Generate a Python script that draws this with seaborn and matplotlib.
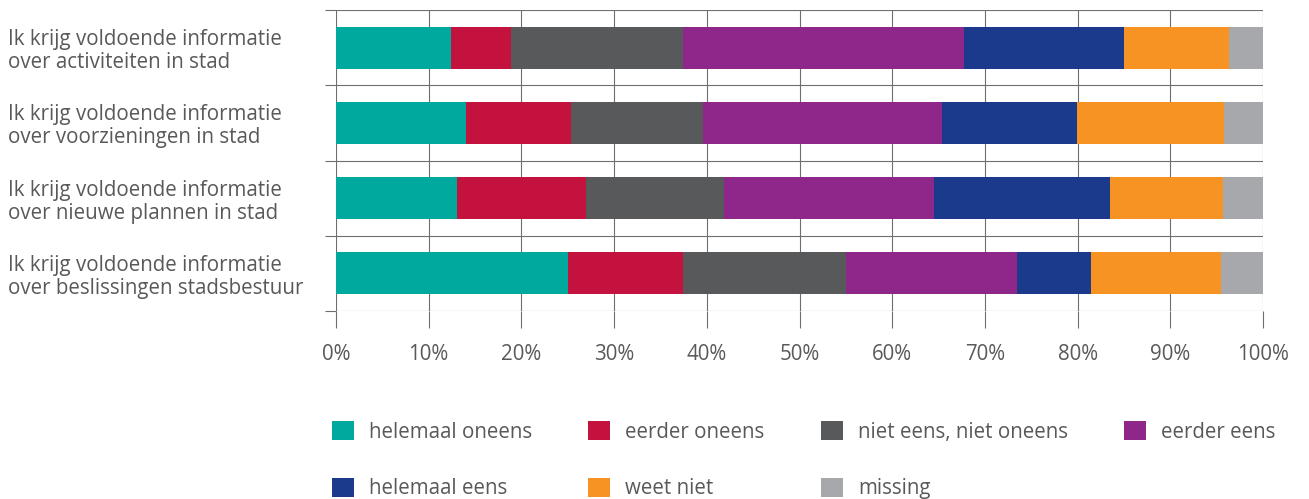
import numpy as np
import pandas as pd
import matplotlib
matplotlib.use("Agg")
import matplotlib.pyplot as plt
from matplotlib.patches import Patch
import seaborn as sns

# Survey statements (one bar each)
statements = [
    "Ik krijg voldoende informatie\nover activiteiten in stad",
    "Ik krijg voldoende informatie\nover voorzieningen in stad",
    "Ik krijg voldoende informatie\nover nieuwe plannen in stad",
    "Ik krijg voldoende informatie\nover beslissingen stadsbestuur",
]

# Answer categories and their colours
answers = ["helemaal oneens", "eerder oneens", "niet eens, niet oneens",
           "eerder eens", "helemaal eens", "weet niet", "missing"]
colors = ["#00A99D", "#C4123F", "#58595B", "#8F278B",
          "#1C3A8C", "#F69322", "#A7A8AB"]

# Share of respondents (%) per answer, one value per statement
helemaal_oneens = [12.4, 14.0, 13.1, 25.0]
eerder_oneens = [6.5, 11.4, 13.9, 12.4]
niet_eens_niet_oneens = [18.5, 14.2, 14.9, 17.6]
eerder_eens = [30.3, 25.8, 22.6, 18.5]
helemaal_eens = [17.3, 14.5, 19.0, 7.9]
weet_niet = [11.3, 15.9, 12.2, 14.1]
missing = [3.7, 4.2, 4.3, 4.5]

x_ticks = [0, 10, 20, 30, 40, 50, 60, 70, 80, 90, 100]
x_tick_labels = [f"{t}%" for t in x_ticks]

series = [helemaal_oneens, eerder_oneens, niet_eens_niet_oneens,
          eerder_eens, helemaal_eens, weet_niet, missing]

df = pd.DataFrame({a: v for a, v in zip(answers, series)})
df["statement"] = statements
cum = df[answers].cumsum(axis=1)

sns.set_theme(style="white")
plt.rcParams["font.family"] = ["Open Sans", "DejaVu Sans"]

text_color = "#58595B"
grid_color = "#6D6E71"
fs = 14.8

fig = plt.figure(figsize=(13.09, 4.99), dpi=100)
ax = fig.add_axes([336 / 1309, 1 - 311 / 499, (1263 - 336) / 1309, (311 - 10) / 499])

# Stacked bars: draw cumulative totals from the outermost segment inwards
for ans, col in reversed(list(zip(answers, colors))):
    sns.barplot(x=cum[ans], y=df["statement"], orient="h", color=col,
                width=0.56, saturation=1, linewidth=0, ax=ax, zorder=3)

ax.set_xlim(0, 100)
ax.set_ylim(3.5, -0.5)
ax.set_xlabel("")
ax.set_ylabel("")

for s in ax.spines.values():
    s.set_visible(False)

# x axis: percentage ticks with full-height grid lines
ax.set_xticks(x_ticks)
ax.set_xticklabels(x_tick_labels, fontsize=fs, color=text_color)
ax.tick_params(axis="x", bottom=True, length=12.5, width=0.8, color=grid_color,
               direction="out", pad=11)
ax.grid(axis="x", color=grid_color, linewidth=0.8)

# y axis: separators between statements
ax.set_yticks([-0.5, 0.5, 1.5, 2.5, 3.5], minor=True)
ax.yaxis.grid(True, which="minor", color=grid_color, linewidth=0.8)
ax.yaxis.grid(False, which="major")
ax.tick_params(axis="y", which="minor", left=True, length=8, width=0.8,
               color=grid_color, direction="out")
ax.tick_params(axis="y", which="major", left=False, length=0, pad=328 * 0.72)
for lab in ax.get_yticklabels():
    lab.set_ha("left")
    lab.set_fontsize(fs)
    lab.set_color(text_color)
    lab.set_linespacing(1.12)
ax.set_axisbelow(True)

# Legend laid out row by row in four columns
handles = [Patch(facecolor=c, edgecolor="none", label=a) for a, c in zip(answers, colors)]
order = [0, 4, 1, 5, 2, 6, 3]
leg = fig.legend([handles[i] for i in order], [answers[i] for i in order],
                 loc="upper left", bbox_to_anchor=(332 / 1309, 1 - 421 / 499),
                 ncol=4, frameon=False, fontsize=fs, handlelength=1.07,
                 handleheight=1.07, handletextpad=0.72, columnspacing=2.75,
                 labelspacing=1.7, borderpad=0, borderaxespad=0)
for t in leg.get_texts():
    t.set_color(text_color)

fig.savefig("out.png", dpi=100)
